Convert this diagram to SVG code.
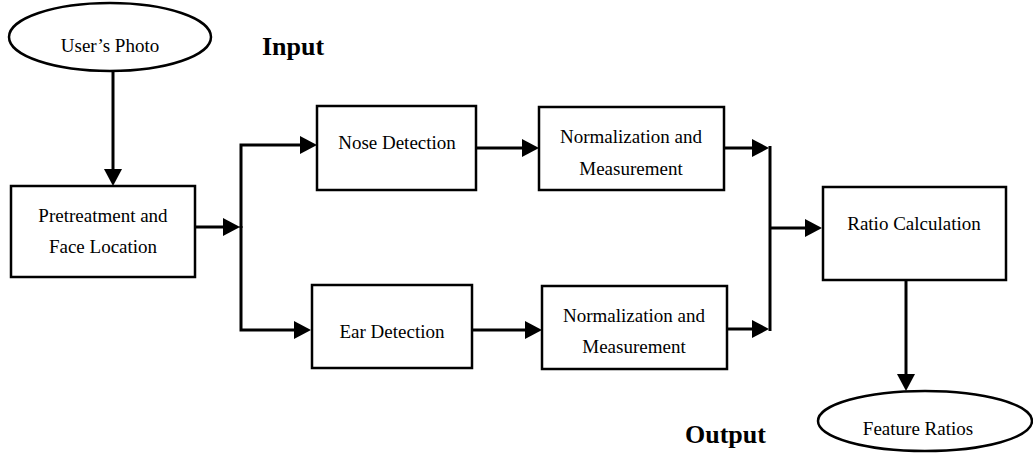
<svg xmlns="http://www.w3.org/2000/svg" width="1033" height="456" viewBox="0 0 1033 456">
  <style>
    .box { fill: #ffffff; stroke: #000000; stroke-width: 2.5; }
    .oval { fill: #ffffff; stroke: #000000; stroke-width: 2.5; }
    .lbl { font-family: "Liberation Serif", "Times New Roman", serif; font-size: 19px; fill: #000000; text-anchor: middle; }
    .head { font-family: "Liberation Serif", "Times New Roman", serif; font-size: 26px; font-weight: bold; fill: #000000; }
    .wire { fill: none; stroke: #000000; stroke-width: 3; stroke-linecap: butt; stroke-linejoin: miter; }
  </style>
  <defs>
    <marker id="arrow" markerUnits="userSpaceOnUse" markerWidth="18" markerHeight="18" refX="7" refY="9" orient="auto">
      <path d="M0,0 L17,9 L0,18 Z" fill="#000000"/>
    </marker>
  </defs>

  <rect width="1033" height="456" fill="#ffffff"/>

  <!-- connectors -->
  <g id="connectors">
    <line class="wire" x1="113" y1="71" x2="113" y2="176" marker-end="url(#arrow)"/>
    <line class="wire" x1="195" y1="227" x2="230" y2="227" marker-end="url(#arrow)"/>
    <path class="wire" d="M241,228 V145 H307" marker-end="url(#arrow)"/>
    <path class="wire" d="M241,226 V330 H301" marker-end="url(#arrow)"/>
    <line class="wire" x1="476" y1="148" x2="529" y2="148" marker-end="url(#arrow)"/>
    <line class="wire" x1="472" y1="330" x2="532" y2="330" marker-end="url(#arrow)"/>
    <line class="wire" x1="724" y1="148" x2="759" y2="148" marker-end="url(#arrow)"/>
    <line class="wire" x1="727" y1="329" x2="759" y2="329" marker-end="url(#arrow)"/>
    <line class="wire" x1="770" y1="146" x2="770" y2="331"/>
    <line class="wire" x1="770" y1="228" x2="812" y2="228" marker-end="url(#arrow)"/>
    <line class="wire" x1="906" y1="280" x2="906" y2="381" marker-end="url(#arrow)"/>
  </g>

  <!-- nodes -->
  <g id="users-photo">
    <ellipse class="oval" cx="110" cy="37" rx="101" ry="34"/>
    <text class="lbl" x="110" y="52">User’s Photo</text>
  </g>

  <g id="input-label">
    <text class="head" x="262" y="55">Input</text>
  </g>

  <g id="pretreatment">
    <rect class="box" x="11" y="186" width="184" height="91"/>
    <text class="lbl" x="103" y="222">Pretreatment and</text>
    <text class="lbl" x="103" y="253">Face Location</text>
  </g>

  <g id="nose-detection">
    <rect class="box" x="317" y="106" width="159" height="84"/>
    <text class="lbl" x="397" y="149">Nose Detection</text>
  </g>

  <g id="nose-normalization">
    <rect class="box" x="539" y="107" width="185" height="83"/>
    <text class="lbl" x="631" y="143">Normalization and</text>
    <text class="lbl" x="631" y="175">Measurement</text>
  </g>

  <g id="ear-detection">
    <rect class="box" x="312" y="285" width="160" height="83"/>
    <text class="lbl" x="392" y="338">Ear Detection</text>
  </g>

  <g id="ear-normalization">
    <rect class="box" x="542" y="286" width="185" height="83"/>
    <text class="lbl" x="634" y="322">Normalization and</text>
    <text class="lbl" x="634" y="353">Measurement</text>
  </g>

  <g id="ratio-calculation">
    <rect class="box" x="823" y="187" width="183" height="93"/>
    <text class="lbl" x="914" y="230">Ratio Calculation</text>
  </g>

  <g id="feature-ratios">
    <ellipse class="oval" cx="925" cy="421" rx="107" ry="30"/>
    <text class="lbl" x="918" y="435">Feature Ratios</text>
  </g>

  <g id="output-label">
    <text class="head" x="685" y="443">Output</text>
  </g>
</svg>
